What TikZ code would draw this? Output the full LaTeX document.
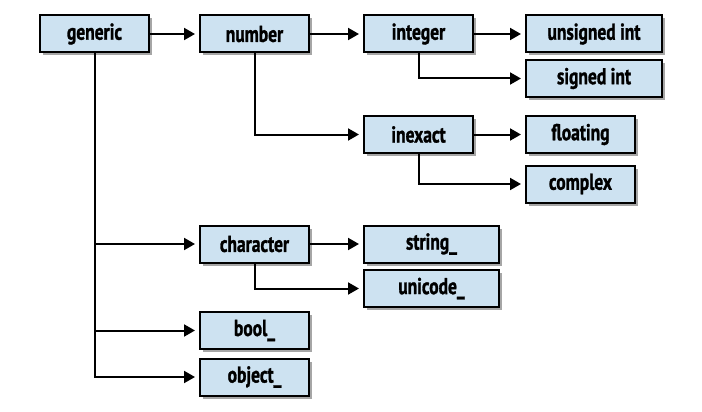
\documentclass[tikz,border=0pt]{standalone}
\usepackage{fontspec}
\setmainfont{PT Sans}[FakeStretch=0.76, BoldFeatures={FakeBold=1.2}]
\usetikzlibrary{arrows.meta,shadows}
\definecolor{boxfill}{HTML}{CDE2F1}
\tikzset{
  tbox/.style={draw=black, line width=2pt, fill=boxfill, minimum height=37pt,
    inner sep=0pt, font=\fontsize{23}{26}\selectfont\bfseries,
    drop shadow={shadow xshift=3pt, shadow yshift=-3pt, fill=black, opacity=0.35}},
  conn/.style={line width=2pt, -{Triangle[length=11pt,width=12pt]}, shorten >=4pt}
}
\begin{document}
\begin{tikzpicture}[x=1pt,y=-1pt]
\useasboundingbox (0,0) rectangle (702,412);
\node[tbox, minimum width=109pt] (generic) at (94.5,34) {generic};
\node[tbox, minimum width=109pt] (number) at (254.5,34) {number};
\node[tbox, minimum width=109pt] (integer) at (418.5,34) {integer};
\node[tbox, minimum width=136pt] (unsigned) at (594,34) {unsigned int};
\node[tbox, minimum width=136pt] (signed) at (594,78.5) {signed int};
\node[tbox, minimum width=109pt] (inexact) at (418.5,134.5) {inexact};
\node[tbox, minimum width=109pt] (floating) at (580.5,134.5) {floating};
\node[tbox, minimum width=109pt] (complex) at (580.5,184) {complex};
\node[tbox, minimum width=109pt] (character) at (254.5,244) {character};
\node[tbox, minimum width=135pt] (string) at (431.5,244) {string\_};
\node[tbox, minimum width=135pt] (unicode) at (431.5,288.5) {unicode\_};
\node[tbox, minimum width=109pt] (bool) at (254.5,330.5) {bool\_};
\node[tbox, minimum width=109pt] (object) at (254.5,377) {object\_};

\draw[conn] (generic.east) -- (number.west);
\draw[conn] (number.east) -- (integer.west);
\draw[conn] (integer.east) -- (unsigned.west);
\draw[conn] (integer.south) |- (signed.west);
\draw[conn] (number.south) |- (inexact.west);
\draw[conn] (inexact.east) -- (floating.west);
\draw[conn] (inexact.south) |- (complex.west);
\draw[conn] (generic.south) |- (character.west);
\draw[conn] (generic.south) |- (bool.west);
\draw[conn] (generic.south) |- (object.west);
\draw[conn] (character.east) -- (string.west);
\draw[conn] (character.south) |- (unicode.west);
\end{tikzpicture}
\end{document}
